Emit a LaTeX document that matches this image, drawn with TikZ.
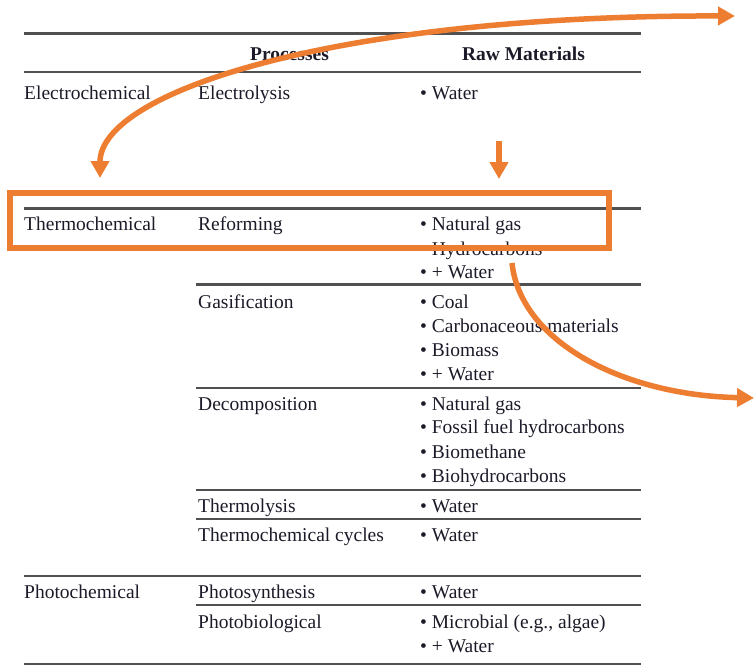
\documentclass[tikz,border=0pt]{standalone}
\usepackage{fontspec}
\setmainfont{Liberation Serif}
\usetikzlibrary{arrows.meta}
\definecolor{txt}{RGB}{28,26,40}
\definecolor{rulec}{RGB}{80,80,80}
\definecolor{orng}{RGB}{237,125,49}
\tikzset{
  cell/.style={anchor=base west, inner sep=0pt, text=txt, font=\fontsize{19.5}{24}\selectfont},
  head/.style={anchor=base, inner sep=0pt, text=txt, font=\fontsize{19.5}{24}\selectfont\bfseries},
  rulel/.style={draw=rulec, line width=2.2pt},
  orline/.style={draw=orng, line width=5.5pt},
  orbox/.style={draw=orng, line width=6pt},
  ortip/.style={-{Triangle[width=18pt,length=17pt]}},
}
\begin{document}
\begin{tikzpicture}[x=1pt,y=-1pt]
\useasboundingbox (0,0) rectangle (754,667);
% rules
\draw[rulel] (24,33.5) -- (641,33.5);
\draw[rulel] (24,72) -- (641,72);
\draw[rulel] (24,208.5) -- (641,208.5);
\draw[rulel] (196,284.5) -- (641,284.5);
\draw[rulel] (196,388) -- (641,388);
\draw[rulel] (196,490) -- (641,490);
\draw[rulel] (196,519) -- (641,519);
\draw[rulel] (24,576) -- (641,576);
\draw[rulel] (196,605) -- (641,605);
\draw[rulel] (24,664) -- (641,664);
% headers
\node[head] (hproc) at (289.5,60) {Processes};
\node[head] (hraw) at (523.5,60) {Raw Materials};
% electrochemical
\node[cell] (electro) at (24,99) {Electrochemical};
\node[cell] (electrolysis) at (198,99) {Electrolysis};
\node[cell] (w1) at (420,99) {\textbullet\ Water};
% thermochemical
\node[cell] (thermo) at (24,230) {Thermochemical};
\node[cell] (reform) at (198,230) {Reforming};
\node[cell] (ng1) at (420,230) {\textbullet\ Natural gas};
\node[cell] (hc) at (420,255) {\textbullet\ Hydrocarbons};
\node[cell] (w2) at (420,278) {\textbullet\ + Water};
\node[cell] (gas) at (198,308) {Gasification};
\node[cell] (coal) at (420,308) {\textbullet\ Coal};
\node[cell] (carb) at (420,332) {\textbullet\ Carbonaceous materials};
\node[cell] (bio) at (420,356) {\textbullet\ Biomass};
\node[cell] (w3) at (420,380) {\textbullet\ + Water};
\node[cell] (decomp) at (198,410) {Decomposition};
\node[cell] (ng2) at (420,410) {\textbullet\ Natural gas};
\node[cell] (ffh) at (420,433) {\textbullet\ Fossil fuel hydrocarbons};
\node[cell] (bmeth) at (420,458) {\textbullet\ Biomethane};
\node[cell] (bhc) at (420,482) {\textbullet\ Biohydrocarbons};
\node[cell] (tlysis) at (198,512) {Thermolysis};
\node[cell] (w4) at (420,512) {\textbullet\ Water};
\node[cell] (cycles) at (198,541) {Thermochemical cycles};
\node[cell] (w5) at (420,541) {\textbullet\ Water};
% photochemical
\node[cell] (photo) at (24,598) {Photochemical};
\node[cell] (psyn) at (198,598) {Photosynthesis};
\node[cell] (w6) at (420,598) {\textbullet\ Water};
\node[cell] (pbio) at (198,628) {Photobiological};
\node[cell] (micro) at (420,628) {\textbullet\ Microbial (e.g., algae)};
\node[cell] (w7) at (420,652) {\textbullet\ + Water};
% orange highlights
\coordinate (boxnw) at (10,193);
\coordinate (boxse) at (609,248);
\draw[orbox] (boxnw) rectangle (boxse);
\coordinate (c1a) at (100,178);
\coordinate (c1b) at (735,16);
\draw[orline, {Triangle[width=18pt,length=17pt]}-{Triangle[width=18pt,length=17pt]}]
  (c1a) .. controls (100,92) and (335,15) .. (c1b);
\coordinate (s2a) at (499,141);
\coordinate (s2b) at (499,179);
\draw[orline, ortip] (s2a) -- (s2b);
\coordinate (c2a) at (512,263);
\coordinate (c2b) at (754,398);
\draw[orline, ortip] (c2a) .. controls (520,340) and (620,395) .. (c2b);
\end{tikzpicture}
\end{document}
